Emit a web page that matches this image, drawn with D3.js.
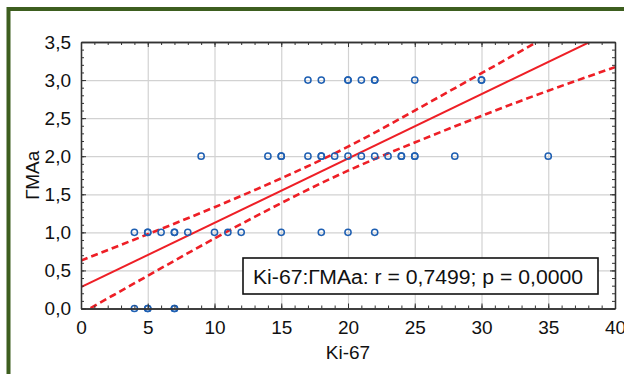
<!DOCTYPE html>
<html><head><meta charset="utf-8">
<script src="https://cdn.jsdelivr.net/npm/d3@7"></script>
<style>body{margin:0;background:#fff}svg{display:block}text{font-family:"Liberation Sans",Arial,sans-serif;fill:#111}</style>
</head><body>
<svg id="c" width="624" height="374"></svg>
<script>
// Scatter data (Ki-67, ГМАa); repeated values are overlapping points
const ki67 = [4,5,5,7,7,
  4,5,5,6,7,7,8,10,11,12,15,18,20,22,
  9,14,15,15,17,18,18,19,20,21,22,23,24,24,25,25,28,35,
  17,18,20,20,21,22,22,25,30,30];
const gmaa = [0,0,0,0,0,
  1,1,1,1,1,1,1,1,1,1,1,1,1,1,
  2,2,2,2,2,2,2,2,2,2,2,2,2,2,2,2,2,2,
  3,3,3,3,3,3,3,3,3,3];
// Regression line (intercept, slope) and 95% band
const fitCoef = [0.28, 0.0845];
const bandX = [0,5,10,15,20,25,30,35,40];
const bandUpper = [0.63,0.975,1.33,1.71,2.125,2.6,3.09,3.585,4.09];
const bandLower = [-0.065,0.43,0.92,1.385,1.81,2.18,2.53,2.86,3.17];
const xTicks = [0,5,10,15,20,25,30,35,40];
const yTicks = [0,0.5,1,1.5,2,2.5,3,3.5];
const xTitle = "Ki-67";
const yTitle = "ГМАa";
const legendText = "Ki-67:ГМАa: r = 0,7499; p = 0,0000";

const svg = d3.select("#c");
const L = 81, R = 615, T = 42, B = 308.5;
const x = d3.scaleLinear().domain([0,40]).range([L,R]);
const y = d3.scaleLinear().domain([0,3.5]).range([B,T]);
const fmtY = v => d3.format(".1f")(v).replace(".", ",");
const FS = 19;

// green frame
svg.append("rect").attr("x",8.5).attr("y",9).attr("width",700).attr("height",500)
  .attr("fill","none").attr("stroke","#3d5e1f").attr("stroke-width",4);

// grid
const g = svg.append("g");
g.append("g").attr("transform",`translate(0,${B})`)
  .call(d3.axisBottom(x).tickValues(xTicks.slice(1,-1)).tickSize(-(B-T)).tickFormat(""))
  .call(s=>{s.select(".domain").remove();s.selectAll("line").attr("stroke","#d2d2d2").attr("stroke-width",1.2);});
g.append("g").attr("transform",`translate(${L},0)`)
  .call(d3.axisLeft(y).tickValues(yTicks.slice(1,-1)).tickSize(-(R-L)).tickFormat(""))
  .call(s=>{s.select(".domain").remove();s.selectAll("line").attr("stroke","#d2d2d2").attr("stroke-width",1.2);});

// clip
svg.append("clipPath").attr("id","clip").append("rect").attr("x",L).attr("y",T).attr("width",R-L).attr("height",B-T);
const plot = svg.append("g").attr("clip-path","url(#clip)");

// regression line
plot.append("line").attr("x1",x(0)).attr("y1",y(fitCoef[0])).attr("x2",x(40)).attr("y2",y(fitCoef[0]+fitCoef[1]*40))
  .attr("stroke","#ee1f26").attr("stroke-width",2);
const band = d3.line().x(d=>x(d[0])).y(d=>y(d[1])).curve(d3.curveNatural);
[bandUpper, bandLower].forEach(arr=>{
  plot.append("path").attr("d", band(bandX.map((v,i)=>[v,arr[i]])))
    .attr("fill","none").attr("stroke","#ee1f26").attr("stroke-width",2.6).attr("stroke-dasharray","7,4");
});

// points
svg.append("g").selectAll("circle").data(ki67.map((v,i)=>[v,gmaa[i]])).join("circle")
  .attr("cx",d=>x(d[0])).attr("cy",d=>y(d[1])).attr("r",3.1)
  .attr("fill","none").attr("stroke","#1e5fb2").attr("stroke-width",1.5);

// axes with inward ticks
function styleAx(s){ s.select(".domain").attr("stroke","#333").attr("stroke-width",1.3);
  s.selectAll("line").attr("stroke","#333").attr("stroke-width",1); }
const labStyle = s=>s.selectAll("text").attr("font-size",FS).attr("fill","#111").attr("font-family","Liberation Sans, Arial, sans-serif");
const minorX = d3.range(0,41,1), minorY = d3.range(0,36,1).map(v=>v/10);
// bottom
svg.append("g").attr("transform",`translate(0,${B})`)
  .call(d3.axisBottom(x).tickValues(minorX).tickSize(-3).tickSizeOuter(0).tickFormat("")).call(styleAx);
svg.append("g").attr("transform",`translate(0,${B})`)
  .call(d3.axisBottom(x).tickValues(xTicks).tickSize(-5).tickSizeOuter(0).tickPadding(12))
  .call(styleAx).call(labStyle);
// top
svg.append("g").attr("transform",`translate(0,${T})`)
  .call(d3.axisTop(x).tickValues(minorX).tickSize(-3).tickSizeOuter(0).tickFormat("")).call(styleAx);
svg.append("g").attr("transform",`translate(0,${T})`)
  .call(d3.axisTop(x).tickValues(xTicks).tickSize(-5).tickSizeOuter(0).tickFormat("")).call(styleAx);
// left
svg.append("g").attr("transform",`translate(${L},0)`)
  .call(d3.axisLeft(y).tickValues(minorY).tickSize(-3).tickSizeOuter(0).tickFormat("")).call(styleAx);
svg.append("g").attr("transform",`translate(${L},0)`)
  .call(d3.axisLeft(y).tickValues(yTicks).tickSize(-5).tickSizeOuter(0).tickPadding(10).tickFormat(fmtY))
  .call(styleAx).call(labStyle);
// right
svg.append("g").attr("transform",`translate(${R},0)`)
  .call(d3.axisRight(y).tickValues(minorY).tickSize(-3).tickSizeOuter(0).tickFormat("")).call(styleAx);
svg.append("g").attr("transform",`translate(${R},0)`)
  .call(d3.axisRight(y).tickValues(yTicks).tickSize(-5).tickSizeOuter(0).tickFormat("")).call(styleAx);

// titles
svg.append("text").attr("x",(L+R)/2).attr("y",359).attr("text-anchor","middle").attr("font-size",FS).text(xTitle);
svg.append("text").attr("transform",`translate(39,${(T+B)/2}) rotate(-90)`).attr("text-anchor","middle").attr("font-size",FS).text(yTitle);

// legend box
svg.append("rect").attr("x",243).attr("y",258).attr("width",355).attr("height",36)
  .attr("fill","#fff").attr("stroke","#111").attr("stroke-width",1.6);
svg.append("text").attr("x",253).attr("y",284).attr("font-size",20)
  .attr("textLength",330).attr("lengthAdjust","spacingAndGlyphs").text(legendText);
</script>
</body></html>
